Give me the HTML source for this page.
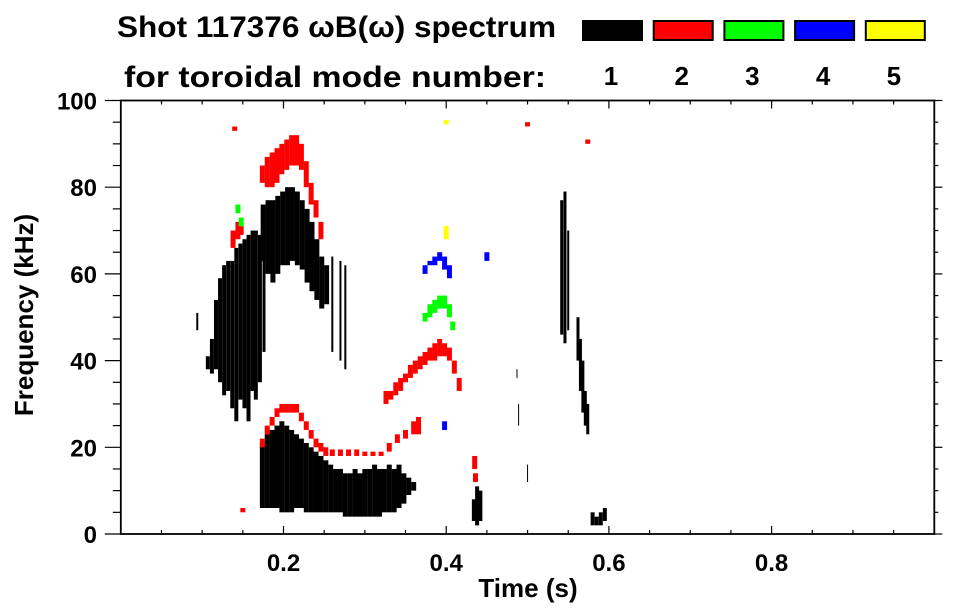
<!DOCTYPE html>
<html><head><meta charset="utf-8">
<style>
html,body{margin:0;padding:0;background:#fff;}
svg{display:block;font-family:"Liberation Sans",Arial,sans-serif;font-weight:bold;}
</style></head>
<body>
<svg id="chart" width="963" height="615" viewBox="0 0 963 615" xmlns="http://www.w3.org/2000/svg">
<text x="117" y="37" font-size="30" textLength="439" lengthAdjust="spacingAndGlyphs">Shot 117376 ωB(ω) spectrum</text>
<text x="124" y="87" font-size="30" textLength="422" lengthAdjust="spacingAndGlyphs">for toroidal mode number:</text>
<g id="legend"></g>
<g id="marks"></g>
<g id="axes"></g>
<text x="528" y="597" font-size="26" text-anchor="middle">Time (s)</text>
<text transform="translate(33,315) rotate(-90)" font-size="26" text-anchor="middle">Frequency (kHz)</text>
</svg>
<script>
const modeLabels=['1','2','3','4','5'];
const modeColors=['#000000','#ff0000','#00ff00','#0000ff','#ffff00'];
const xTicks=[0.2,0.4,0.6,0.8];
const yTicks=[0,20,40,60,80,100];
// mode 1 (black)
const m1T=[0.094,0.107,0.112,0.117,0.122,0.127,0.132,0.137,0.142,0.147,0.152,0.157,0.162,0.166,0.171,0.176,
0.175,0.181,0.187,0.193,0.199,0.205,0.211,0.217,0.223,0.229,0.235,0.241,0.247,0.253,0.26,0.27,0.276,
0.174,0.18,0.186,0.192,0.198,0.204,0.21,0.216,0.222,0.228,0.234,0.24,0.246,0.252,0.258,0.264,0.27,0.276,0.282,0.288,0.294,0.30,0.306,0.312,0.318,0.324,0.33,0.336,0.342,0.348,0.354,0.36,
0.434,0.438,0.442,0.58,0.585,0.59,0.595,0.542,0.546,0.55,0.562,0.565,0.568,0.571,0.574,0.487,0.489,0.50];
const m1Lo=[47,38,37,38,35,32,33,29,26,31,29,26,33,31,35,42,
63,60,58,60,62,62,63,62,61,58,56,54,52,53,42,40,38,
6,6,6,6,5,5,5,6,6,5,5,5,5,5,5,5,5,4,4,4,4,4,4,4,4,5,5,5,6,7,9,10,
3,2,3,2,2,2,3,46,44,47,40,33,28,25,23,36,25,12];
const m1Hi=[51,41,45,54,59,62,63,63,66,67,68,69,70,70,69,68,
76,77,77,78,79,80,80,79,77,75,72,68,64,62,64,63,62,
21,23,24,25,26,25,24,23,22,21,20,19,18,17,16,15,15,14,14,15,14,15,15,16,15,15,16,15,16,14,13,12,
8,11,10,5,4,5,6,77,79,70,50,45,40,33,30,38,30,16];
const m1W=[2,4,4,4,4,4,4,4,4,4,4,4,4,4,4,3,
5,5,5,5,5,5,5,5,5,5,5,5,5,5,2,2,2,
5,5,5,5,5,5,5,5,5,5,5,5,5,5,5,5,5,5,5,5,5,5,5,5,5,5,5,5,5,5,5,5,
4,4,4,4,4,4,4,3,3,2,3,3,3,3,3,1,1,1];
// mode 2 (red)
const m2T=[0.174,0.18,0.186,0.192,0.198,0.204,0.21,0.216,0.222,0.228,0.234,0.24,0.246,0.138,0.144,0.148,
0.174,0.18,0.186,0.192,0.198,0.204,0.21,0.216,0.222,0.228,0.234,0.24,0.246,0.252,0.26,0.27,0.28,0.29,0.30,0.31,0.32,0.33,0.34,0.35,0.36,0.366,
0.326,0.332,0.338,0.344,0.35,0.356,0.362,0.368,0.374,0.38,0.386,0.392,0.398,0.404,0.41,0.416,
0.435,0.436,0.14,0.5,0.574,0.15];
const m2Lo=[81,80,80,81,83,84,85,85,84,80,76,73,68,66,68,69,
20,23,25,27,28,28,28,28,26,24,22,20,19,18,18,18,18,18,18,18,18,19,21,22,23,23,
30,31,32,33,35,36,37,38,39,40,40,41,41,40,37,33,
15,12,93,94,90,5];
const m2Hi=[85,87,88,89,90,91,92,92,90,86,81,77,72,70,72,71,
22,25,27,29,30,30,30,30,28,26,24,22,21,20,19.5,19.5,19.5,19.5,19,19,19,21,23,24,26,27,
33,33,35,36,37,39,40,41,42,43,44,45,44,43,40,36,
18,14,94,95,91,6];
// mode 3 (green)
const m3T=[0.374,0.38,0.386,0.392,0.398,0.404,0.408,0.144,0.148];
const m3Lo=[49,50,51,52,52,50,47,74,71];
const m3Hi=[51,53,54,55,55,53,49,76,73];
// mode 4 (blue)
const m4T=[0.374,0.38,0.386,0.392,0.398,0.404,0.45,0.398];
const m4Lo=[60,62,62,63,61,59,63,24];
const m4Hi=[62,63,64,65,64,62,65,26];
// mode 5 (yellow)
const m5T=[0.4,0.4];
const m5Lo=[68,94.5];
const m5Hi=[71,95.5];

const X0=120.8,X1=934.3,Y0=534,Y1=100.5;
const xScale=t=>X0+t*(X1-X0);
const yScale=f=>Y0-f*(Y0-Y1)/100;
const NS='http://www.w3.org/2000/svg';
function mk(tag,attrs,parent){const e=document.createElementNS(NS,tag);for(const k in attrs)e.setAttribute(k,attrs[k]);parent.appendChild(e);return e;}

const marks=document.getElementById('marks');
function drawMode(T,Lo,Hi,color,W,name){
  for(let i=0;i<T.length;i++){
    const w=W?W[i]:5;
    const y=yScale(Hi[i]),h=Math.max(1,yScale(Lo[i])-y);
    const r=mk('rect',{x:xScale(T[i])-w/2,y:y,width:w,height:h,fill:color},marks);
    
    
  }
}
drawMode(m1T,m1Lo,m1Hi,modeColors[0],m1W,'mode-1-strip');
drawMode(m2T,m2Lo,m2Hi,modeColors[1],null,'mode-2-strip');
drawMode(m3T,m3Lo,m3Hi,modeColors[2],null,'mode-3-strip');
drawMode(m4T,m4Lo,m4Hi,modeColors[3],null,'mode-4-strip');
drawMode(m5T,m5Lo,m5Hi,modeColors[4],null,'mode-5-strip');

// legend
const lg=document.getElementById('legend');
for(let i=0;i<5;i++){
  const x=582+i*70.7;
  const r=mk('rect',{x:x+1,y:21,width:59,height:19,fill:modeColors[i],stroke:'#000','stroke-width':2},lg);
  
  
  const t=mk('text',{x:x+29,y:85,'font-size':26,'text-anchor':'middle'},lg);
  t.textContent=modeLabels[i];
  
  
}

// axes
const ax=document.getElementById('axes');
const frame=mk('rect',{x:X0,y:Y1,width:X1-X0,height:Y0-Y1,fill:'none',stroke:'#000','stroke-width':1.8},ax);


for(let k=1;k<20;k++){
  const t=k*0.05,x=xScale(t),major=(k%4===0);
  const len=major?8:4;
  mk('line',{x1:x,y1:Y0,x2:x,y2:Y0-len,stroke:'#000','stroke-width':1.2},ax);
  mk('line',{x1:x,y1:Y1,x2:x,y2:Y1+len,stroke:'#000','stroke-width':1.2},ax);
}
xTicks.forEach(t=>{
  const lab=mk('text',{x:xScale(t),y:571,'font-size':24,'text-anchor':'middle'},ax);
  lab.textContent=t.toFixed(1);
  
  
});
for(let k=0;k<=20;k++){
  const f=k*5,y=yScale(f),major=(k%4===0);
  const len=major?16:8;
  mk('line',{x1:X0,y1:y,x2:X0-len,y2:y,stroke:'#000','stroke-width':1.2},ax);
  mk('line',{x1:X1,y1:y,x2:X1+len/2,y2:y,stroke:'#000','stroke-width':1.2},ax);
}
yTicks.forEach(f=>{
  const lab=mk('text',{x:97,y:yScale(f)+9,'font-size':24,'text-anchor':'end'},ax);
  lab.textContent=String(f);
  
  
});
</script>
</body></html>
